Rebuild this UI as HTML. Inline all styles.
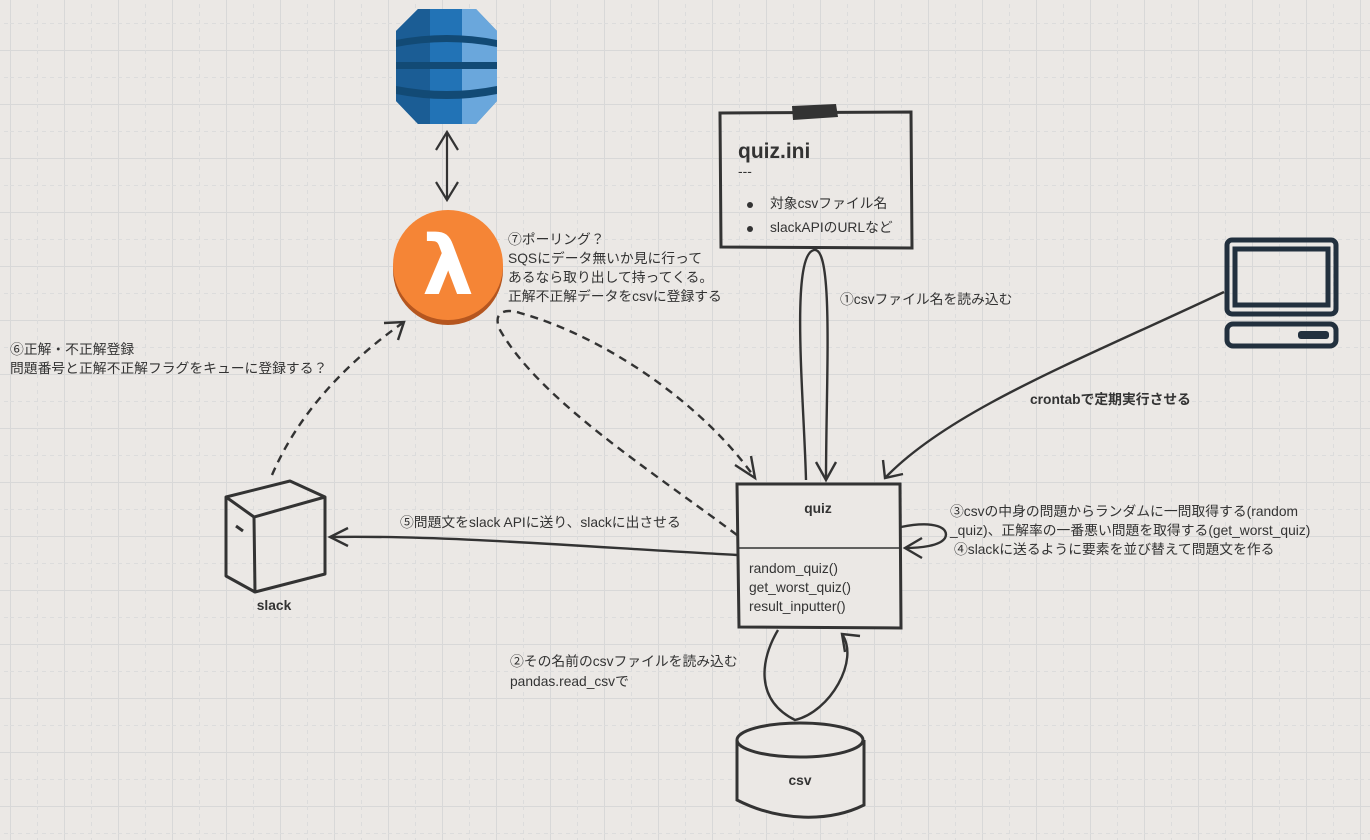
<!DOCTYPE html>
<html><head><meta charset="utf-8"><style>
html,body{margin:0;padding:0;background:#ebe8e5;}
svg{display:block;}
text{font-family:"Liberation Sans","Noto Sans CJK JP",sans-serif;fill:#333;font-size:13.8px;}
</style></head><body>
<svg width="1370" height="840" viewBox="0 0 1370 840" xmlns="http://www.w3.org/2000/svg">
<defs>
<pattern id="g" x="10" y="50" width="54" height="54" patternUnits="userSpaceOnUse">
<path d="M0.5 0V54M0 0.5H54" stroke="#d8d8d8" stroke-width="1" fill="none"/>
<path d="M27.5 0V54M0 27.5H54" stroke="#dcdcdc" stroke-width="1" stroke-dasharray="4 4" fill="none"/>
</pattern>
</defs>
<rect width="1370" height="840" fill="#ebe8e5"/>
<rect width="1370" height="840" fill="url(#g)"/>

<!-- DynamoDB -->
<g>
<polygon points="396,31 418,9 476,9 497,31 497,101 476,124 418,124 396,101" fill="#2273b6"/>
<polygon points="396,31 418,9 430,9 430,124 418,124 396,101" fill="#1b5d95"/>
<polygon points="462,9 476,9 497,31 497,101 476,124 462,124" fill="#6aa7dc"/>
<path d="M396,40 Q447,30 497,40 L497,47 Q447,37 396,47Z" fill="#124a75"/>
<rect x="396" y="62" width="101" height="7" fill="#124a75"/>
<path d="M396,86 Q447,96 497,86 L497,94 Q447,104 396,94Z" fill="#124a75"/>
</g>
<!-- double arrow -->
<g stroke="#333" stroke-width="2.2" fill="none">
<line x1="447" y1="132" x2="447" y2="200"/>
<polyline points="436,150 447,132 458,150"/>
<polyline points="436,182 447,200 458,182"/>
</g>
<!-- lambda -->
<circle cx="448" cy="270" r="55" fill="#b5561f"/>
<circle cx="448" cy="265" r="55" fill="#f58536"/>
<text x="448" y="294" text-anchor="middle" style="font-size:82px;fill:#fff;font-family:'DejaVu Sans',sans-serif;font-weight:bold">λ</text>

<!-- 7 text -->
<text x="508" y="244">⑦ポーリング？</text>
<text x="508" y="263">SQSにデータ無いか見に行って</text>
<text x="508" y="282">あるなら取り出して持ってくる。</text>
<text x="508" y="301">正解不正解データをcsvに登録する</text>

<!-- quiz.ini -->
<path d="M720,113 L911,112 L912,248 L721,247 Z" fill="none" stroke="#333" stroke-width="3"/>
<path d="M792,106 L836,104 L838,117 L793,120 Z" fill="#333"/>
<text x="738" y="158" style="font-size:21px;font-weight:bold">quiz.ini</text>
<text x="738" y="176">---</text>
<circle cx="750" cy="205" r="3" fill="#333"/>
<circle cx="750" cy="229" r="3" fill="#333"/>
<text x="770" y="208">対象csvファイル名</text>
<text x="770" y="232">slackAPIのURLなど</text>

<!-- monitor -->
<g fill="none" stroke="#22303e" stroke-width="5">
<rect x="1227" y="240" width="109" height="74" rx="5"/>
<rect x="1235" y="249" width="93" height="56"/>
<rect x="1227" y="324" width="109" height="22" rx="6"/>
</g>
<rect x="1298" y="331" width="31" height="8" rx="3" fill="#22303e"/>

<g stroke="#333" stroke-width="2.4" fill="none">
<path d="M1224,292 C1080,360 950,410 885,478"/>
<polyline points="883,460 885,478 903,474"/>
<path d="M806,480 C804,400 790,255 814,250 C834,246 826,380 826,480"/>
<polyline points="816,462 826,480 836,462"/>
<path d="M901,527 C935,520 950,528 945,538 C940,546 920,548 905,548"/>
<polyline points="922,538 905,548 922,558"/>
<path d="M737,555 C600,548 450,535 330,537"/>
<polyline points="348,528 330,537 348,546"/>
<path d="M778,630 C760,660 755,700 795,720 C830,712 860,660 842,634"/>
<polyline points="845,652 842,634 860,636"/>
</g>
<g stroke="#333" stroke-width="2.4" fill="none" stroke-dasharray="8 6">
<path d="M737,535 C650,470 540,400 500,330 C492,312 505,308 520,313 C600,335 700,400 755,478"/>
<path d="M272,475 C300,410 350,360 404,322"/>
</g>
<g stroke="#333" stroke-width="2.4" fill="none">
<polyline points="735,465 755,478 751,456"/>
<polyline points="384,323 404,322 398,340"/>
</g>

<!-- quiz class box -->
<path d="M737,484 L900,484 L901,628 L739,627 Z" fill="#ebe8e5" stroke="#333" stroke-width="3"/>
<line x1="738" y1="548" x2="900" y2="548" stroke="#333" stroke-width="1.5"/>
<text x="818" y="513" text-anchor="middle" style="font-weight:bold">quiz</text>
<text x="749" y="573">random_quiz()</text>
<text x="749" y="592">get_worst_quiz()</text>
<text x="749" y="611">result_inputter()</text>

<!-- csv cylinder -->
<path d="M737,740 L737,800 C780,822 830,822 864,805 L864,740" fill="#ebe8e5" stroke="#333" stroke-width="3"/>
<ellipse cx="800" cy="740" rx="63" ry="17" fill="#ebe8e5" stroke="#333" stroke-width="3"/>
<text x="800" y="785" text-anchor="middle" style="font-weight:bold">csv</text>

<!-- slack cube -->
<g fill="none" stroke="#333" stroke-width="3" stroke-linejoin="round">
<path d="M226,497 L290,481 L325,497 L325,574 L255,592 L226,576 Z"/>
<path d="M226,497 L254,517 L325,497 M254,517 L255,592"/>
<path d="M236,526 L243,531"/>
</g>
<text x="274" y="610" text-anchor="middle" style="font-weight:bold">slack</text>

<!-- labels -->
<text x="10" y="354">⑥正解・不正解登録</text>
<text x="10" y="373">問題番号と正解不正解フラグをキューに登録する？</text>
<text x="840" y="304">①csvファイル名を読み込む</text>
<text x="1030" y="404" style="font-weight:bold">crontabで定期実行させる</text>
<text x="400" y="527">⑤問題文をslack APIに送り、slackに出させる</text>
<text x="950" y="516">③csvの中身の問題からランダムに一問取得する(random</text>
<text x="950" y="535">_quiz)、正解率の一番悪い問題を取得する(get_worst_quiz)</text>
<text x="954" y="554">④slackに送るように要素を並び替えて問題文を作る</text>
<text x="510" y="666">②その名前のcsvファイルを読み込む</text>
<text x="510" y="686">pandas.read_csvで</text>
</svg>
</body></html>
